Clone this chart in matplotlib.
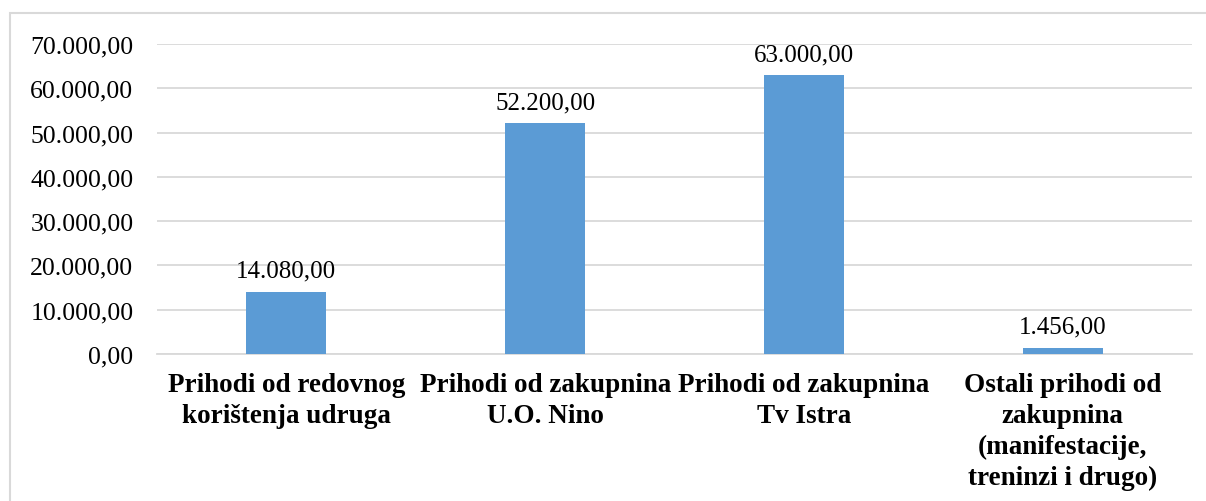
import matplotlib
matplotlib.use("Agg")
import matplotlib.pyplot as plt
from matplotlib.patches import Rectangle
from matplotlib.ticker import FuncFormatter

categories = ["Prihodi od redovnog\nkorištenja udruga",
              "Prihodi od zakupnina\nU.O. Nino",
              "Prihodi od zakupnina\nTv Istra",
              "Ostali prihodi od\nzakupnina\n(manifestacije,\ntreninzi i drugo)"]
values = [14080.00, 52200.00, 63000.00, 1456.00]
yticks = [0, 10000, 20000, 30000, 40000, 50000, 60000, 70000]

def fmt(v):
    s = f"{v:,.2f}"
    return s.replace(",", "X").replace(".", ",").replace("X", ".")

plt.rcParams['font.family'] = ['Liberation Serif', 'DejaVu Serif']

W, H = 1206, 502
fig = plt.figure(figsize=(W/100, H/100), dpi=100)
ax = fig.add_axes([157/W, 1-355/H, (1192-157)/W, (355-45)/H])

x = list(range(len(categories)))
ax.bar(x, values, width=0.31, color='#5B9BD5', zorder=3)
ax.set_xlim(-0.5, len(categories)-0.5)
ax.set_ylim(0, 70000)
ax.set_yticks(yticks)
ax.yaxis.set_major_formatter(FuncFormatter(lambda v, p: fmt(v)))
ax.grid(axis='y', color='#D9D9D9', linewidth=1.3, zorder=0)
for s in ['top', 'right', 'left']:
    ax.spines[s].set_visible(False)
ax.spines['bottom'].set_color('#D9D9D9')
ax.spines['bottom'].set_linewidth(1.3)
ax.tick_params(axis='y', length=0, pad=17, labelsize=18.5)
ax.tick_params(axis='x', length=0, pad=13, labelsize=19.5)
ax.set_xticks(x)
ax.set_xticklabels(categories, fontweight='bold', linespacing=1.3)

for xi, v in zip(x, values):
    ax.annotate(fmt(v), (xi, v), xytext=(0, 7), textcoords='offset points',
                ha='center', va='bottom', fontsize=18)

fig.patches.append(Rectangle((10/W, -0.1), 2, (H-14)/H + 0.1, transform=fig.transFigure,
                             fill=False, edgecolor='#D9D9D9', linewidth=1.5))
fig.savefig("out.png", dpi=100)
